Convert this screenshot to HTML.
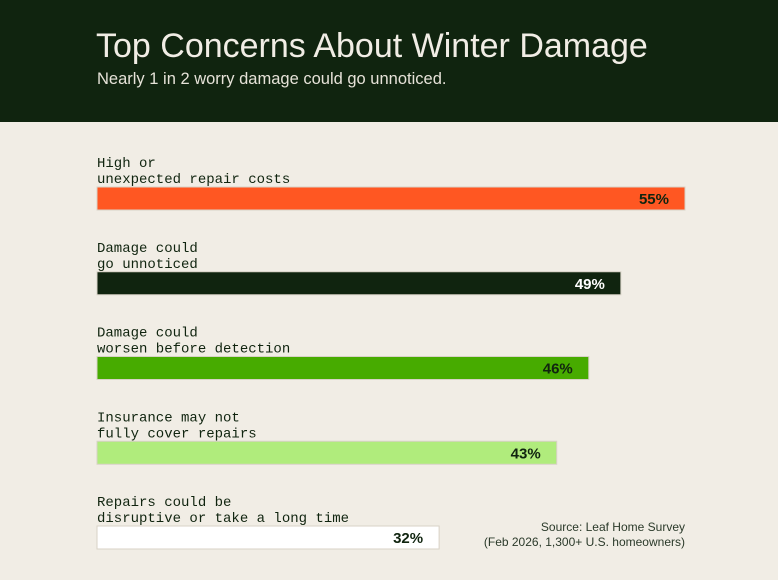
<!DOCTYPE html>
<html><head><meta charset="utf-8"><style>
body{margin:0;width:778px;height:580px;background:#f1ede5;overflow:hidden;font-family:"Liberation Sans",sans-serif}
#hdr{position:absolute;left:0;top:0;width:778px;height:122px;background:#10240f}
#title{position:absolute;left:96px;top:27px;font-size:34px;color:#f1ede5;letter-spacing:0}
#sub{position:absolute;left:97px;top:70px;font-size:16.5px;color:#e6e2d8}
</style></head><body>
<div id="hdr">
<div id="title">Top Concerns About Winter Damage</div>
<div id="sub">Nearly 1 in 2 worry damage could go unnoticed.</div>
</div>
<svg id="chart" width="778" height="580" style="position:absolute;left:0;top:0">
<text x="685" y="531" text-anchor="end" font-size="12" fill="#2b3a2a">Source: Leaf Home Survey</text>
<text x="685" y="546" text-anchor="end" font-size="12" fill="#2b3a2a">(Feb 2026, 1,300+ U.S. homeowners)</text>
</svg>
<script>
const labelsLine1 = ["High or","Damage could","Damage could","Insurance may not","Repairs could be"];
const labelsLine2 = ["unexpected repair costs","go unnoticed","worsen before detection","fully cover repairs","disruptive or take a long time"];
const values = [55,49,46,43,32];
const colors = ["#ff5722","#10240f","#47ab00","#b0ec7c","#ffffff"];
const textColors = ["#10240f","#ffffff","#10240f","#10240f","#10240f"];
const svg = document.getElementById('chart');
const NS = 'http://www.w3.org/2000/svg';
const x0 = 97, pxPer = 588/55;
const xScale = v => v * pxPer;
const yTop = i => 187 + i * 84.75;
values.forEach((v, i) => {
  const y = yTop(i);
  const t1 = document.createElementNS(NS,'text');
  t1.setAttribute('x', x0); t1.setAttribute('y', y - 20);
  t1.setAttribute('font-family','"Liberation Mono",monospace'); t1.setAttribute('font-size','14'); t1.setAttribute('fill','#10240f');
  t1.textContent = labelsLine1[i];
  
  
  svg.appendChild(t1);
  const t2 = document.createElementNS(NS,'text');
  t2.setAttribute('x', x0); t2.setAttribute('y', y - 4);
  t2.setAttribute('font-family','"Liberation Mono",monospace'); t2.setAttribute('font-size','14'); t2.setAttribute('fill','#10240f');
  t2.textContent = labelsLine2[i];
  
  
  svg.appendChild(t2);
  const r = document.createElementNS(NS,'rect');
  r.setAttribute('x', x0); r.setAttribute('y', y);
  r.setAttribute('width', xScale(v)); r.setAttribute('height', 23);
  r.setAttribute('fill', colors[i]);
  r.setAttribute('stroke', '#d8d2c6'); r.setAttribute('stroke-width', '1');
  
  
  svg.appendChild(r);
  const vt = document.createElementNS(NS,'text');
  vt.setAttribute('x', x0 + xScale(v) - 16); vt.setAttribute('y', y + 17);
  vt.setAttribute('text-anchor','end'); vt.setAttribute('font-size','15'); vt.setAttribute('font-weight','bold');
  vt.setAttribute('fill', textColors[i]);
  vt.textContent = v + '%';
  
  
  svg.appendChild(vt);
});
</script>
</body></html>
